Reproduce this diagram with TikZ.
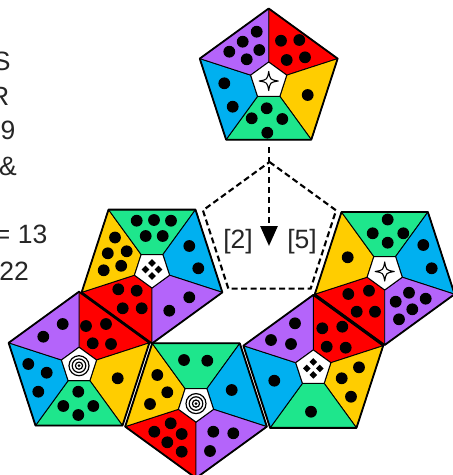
\documentclass[tikz,border=0pt]{standalone}
\usepackage{fontspec}
\setmainfont{Liberation Sans}
\usetikzlibrary{arrows.meta}
\definecolor{dpurple}{RGB}{180,100,250}
\definecolor{dred}{RGB}{255,0,0}
\definecolor{dyellow}{RGB}{255,205,0}
\definecolor{dgreen}{RGB}{30,230,140}
\definecolor{dblue}{RGB}{0,176,240}
\definecolor{txtgray}{RGB}{38,38,38}
\tikzset{
  region/.style={draw=black, line width=0.9pt, line join=round},
  rim/.style={draw=black, line width=1.8pt, line join=round},
  hub/.style={fill=white, draw=black, line width=1pt, line join=round},
  lbl/.style={font=\fontsize{26.5}{30}\selectfont, text=txtgray, inner sep=0pt},
  dashrim/.style={draw=black, line width=2.1pt, dash pattern=on 6pt off 3.5pt},
  pipdot/.style={fill=black},
}
\newcommand\pentaface[4]{%
  \begin{scope}[shift={#1}]
    \foreach \c [count=\k from 0] in {dred,dyellow,dgreen,dblue,dpurple}{
      \pgfmathsetmacro\aA{#3+72*\k}
      \pgfmathsetmacro\aB{#3+72*\k+72}
      \path[region, fill=\c] (\aA:#2) -- (\aB:#2) -- (\aB:#4) -- (\aA:#4) -- cycle;
    }
    \path[rim] (#3:#2) -- ({#3+72}:#2) -- ({#3+144}:#2) -- ({#3+216}:#2) -- ({#3+288}:#2) -- cycle;
    \path[hub] (#3:#4) -- ({#3+72}:#4) -- ({#3+144}:#4) -- ({#3+216}:#4) -- ({#3+288}:#4) -- cycle;
  \end{scope}}
\newcommand\symstar[1]{%
  \begin{scope}[shift={#1}]
    \path[fill=white, draw=black, line width=1.1pt, line join=round] (0,-9.5) .. controls (1.4,-1.4) .. (9.5,0) .. controls (1.4,1.4) .. (0,9.5) .. controls (-1.4,1.4) .. (-9.5,0) .. controls (-1.4,-1.4) .. (0,-9.5) -- cycle;
  \end{scope}}
\newcommand\symdiam[1]{%
  \begin{scope}[shift={#1}]
    \foreach \dx/\dy in {0/-6.5,6.5/0,0/6.5,-6.5/0}{
      \fill (\dx,\dy-3.8) -- (\dx+3.8,\dy) -- (\dx,\dy+3.8) -- (\dx-3.8,\dy) -- cycle;}
  \end{scope}}
\newcommand\symring[1]{%
  \begin{scope}[shift={#1}]
    \draw[line width=1.2pt] (0,0) circle[radius=10pt] (0,0) circle[radius=6.8pt] (0,0) circle[radius=3.6pt];
    \fill (0,0) circle[radius=1.5pt];
  \end{scope}}
\begin{document}
\begin{tikzpicture}[x=1pt,y=-1pt]
\useasboundingbox (0,0) rectangle (453,475);
\fill[white] (0,0) rectangle (453,475);

% text, cut at the left edge as in the reference
\node[lbl, anchor=base east] (tS) at (10.7,70) {S};
\node[lbl, anchor=base east] (tR) at (9.5,105) {R};
\node[lbl, anchor=base east] (t9) at (15.5,139.5) {9};
\node[lbl, anchor=base east] (tamp) at (17,175) {\&};
\node[lbl, anchor=base east] (t13) at (47.5,243.5) {= 13};
\node[lbl, anchor=base east] (t22) at (29,280) {22};

% pentagons
\pentaface{(268.7,81)}{72.5}{270}{19}
\pentaface{(152,269.5)}{74}{90}{18.5}
\pentaface{(79,365.7)}{74}{270}{18.5}
\pentaface{(196,403.6)}{74.5}{90}{18.5}
\pentaface{(313.3,368.4)}{73.5}{270}{18.5}
\pentaface{(384.7,271.5)}{73.5}{90}{18.5}

% dashed pentagon
\begin{scope}[shift={(269.5,232)}]
  \draw[dashrim] (270:70) -- (342:70) -- (54:70) -- (126:70) -- (198:70) -- cycle;
\end{scope}

% pips
\foreach \x/\y in {
  256.7/31.7, 242.7/41.7, 259.3/50, 229.3/51.7, 246.7/59.3,
  281/40.7, 299.3/40, 286.7/60, 305/57.3,
  307.7/95,
  266.7/108.3, 251.7/118.3, 282.3/119, 267.3/132.7,
  224.3/83.3, 232.7/106.7,
  136.7/220.7, 154/220, 171/220.7, 145.7/236, 162.7/236,
  115/237.5, 126.7/251.3, 107.8/253.3, 121.2/265.8, 103.7/270.3,
  189.3/246, 198.3/268.3,
  189.3/297.3, 169.3/310.7,
  118.3/289.3, 136.7/290.7, 122.7/308.3, 141.7/308.3,
  62.7/324, 43.3/336.7,
  86/326, 106/324, 92.7/343.3, 111/344,
  117.7/378.3,
  78.3/391.7, 63.3/406, 93.3/406, 78.3/415,
  28.3/364, 46.7/372.7, 38.3/391.7,
  184/360, 207.3/360.7,
  157.3/375, 167.3/392.3, 150/404,
  231.7/390,
  213.3/431.7, 233.3/433.3, 210/451,
  170.7/423.3, 154.3/431.7, 181.7/434, 167.3/442.3, 181.7/451.7,
  387.7/219.5, 372.7/233.3, 403.3/233.3, 387.7/242.7,
  347.7/257.3,
  423.3/245, 431.7/268.3,
  409/292.7, 425.7/298.7, 395.7/301.7, 412.3/309.3, 399/319.3,
  348.3/294, 369/290.7, 356.7/311.7, 375/311.7,
  295/323.3, 271/340, 291/344,
  322.3/328.3, 342.3/326.7, 326.7/346.7, 345.7/347.7,
  359/367.3, 341.7/378.3, 351/396.7,
  311/411.7,
  274.3/380.7}
  {\path[pipdot] (\x,\y) circle[radius=5.9pt];}

% hub symbols
\symstar{(268.7,81)}
\symdiam{(152,269.5)}
\symring{(79,365.7)}
\symring{(196,403.6)}
\symdiam{(313.3,368.4)}
\symstar{(384.7,271.5)}

% arrow and labels
\coordinate (aStart) at (269,147);
\coordinate (aEnd) at (269,246);
\draw[line width=2.8pt, dash pattern=on 6pt off 4pt, -{Triangle[length=20pt,width=17pt]}] (aStart) -- (aEnd);
\node[lbl] (l2) at (238,241.5) {[2]};
\node[lbl] (l5) at (302,241.5) {[5]};
\end{tikzpicture}
\end{document}
